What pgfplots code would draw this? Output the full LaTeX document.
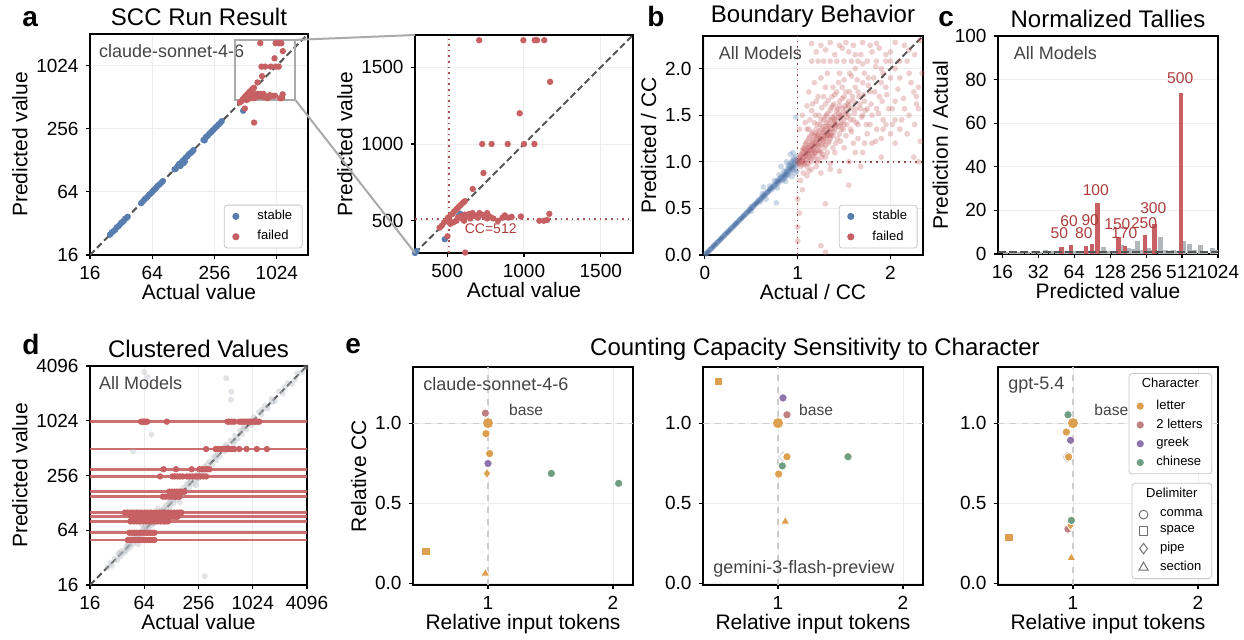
\documentclass[border=0pt]{standalone}
\usepackage{fontspec}
\setmainfont{Liberation Sans}
\usepackage{pgfplots}
\usepackage{pgfplotstable}
\pgfplotsset{compat=1.18}

\definecolor{stable}{RGB}{88,126,176}
\definecolor{failed}{RGB}{198,96,98}
\definecolor{ccred}{RGB}{172,60,60}
\definecolor{bargray}{RGB}{178,183,188}
\definecolor{ptgray}{RGB}{180,186,192}
\definecolor{diag}{RGB}{85,85,85}
\definecolor{inset}{RGB}{68,68,68}
\definecolor{zoomgray}{RGB}{170,170,170}
\definecolor{cletter}{RGB}{220,160,80}
\definecolor{ctwo}{RGB}{190,128,128}
\definecolor{cgreek}{RGB}{142,116,172}
\definecolor{cchin}{RGB}{112,158,130}
\definecolor{refgray}{RGB}{205,205,205}

\pgfplotsset{
 /pgf/number format/assume math mode=true,
 /pgf/number format/1000 sep={},
 panel/.style={
  scale only axis, anchor=south west,
  axis line style={line width=1pt},
  tick pos=left, tick align=outside,
  major tick length=2.2pt,
  tick style={black,line width=0.6pt},
  grid=major, grid style={black!7,line width=0.5pt},
  tick label style={font=\fontsize{9.5}{10}\selectfont},
  label style={font=\fontsize{10.5}{12}\selectfont},
  xlabel style={yshift=4.5pt},
  ylabel style={yshift=-2.5pt},
  title style={font=\fontsize{12}{14}\selectfont,yshift=-5.5pt},
 },
 legbox/.style={font=\fontsize{6.5}{7}\selectfont,draw=black!22,rounded corners=1.5pt,
   inner xsep=4pt,inner ysep=1.5pt,nodes={inner sep=1pt}},
 leg/.style={legend cell align=left,
  legend style={legbox,at={(0.975,0.03)},anchor=south east,row sep=2pt}},
 dots/.style={only marks,mark=*,mark size=#1,mark options={draw opacity=0}},
 cloud/.style={only marks,mark=*,mark size=1.45pt,color=#1,
  mark options={fill=#1,draw opacity=0,fill opacity=0.3}},
 diagline/.style={diag,line width=1pt,dash pattern=on 3.3pt off 1.7pt},
}
\newcommand\insetfont{\fontsize{9}{10}\selectfont}

% panel a: stable points
\pgfplotstableread{
x y
25 25
26 26.3
27 27
28 27.8
29 29.3
30 30
31 31
32 32.4
33 33
34 34
35 35.5
36 36
37 37
50 50
52 52
54 54.5
56 56
58 58
60 60.5
62 62
64 64
66 66.5
68 68
70 70
72 73
75 75
78 78
81 81
105 105
108 106
112 112
116 118
120 120
120 113
125 126
128 120
130 130
132 124
135 136
140 140
145 147
150 150
155 154
160 160
200 200
205 198
210 212
216 216
222 222
230 232
238 238
245 246
252 252
260 262
270 270
280 281
290 290
300 302
484 380
585 545
575 530
}\aBlue
% panel a: failed points
\pgfplotstableread{
x y
708 1676
996 1676
1070 1676
1085 1676
1132 1676
1170 1405
972 1200
728 1000
789 1000
894 1000
1000 1000
1068 1000
736 811
666 707
617 293
502 399
450 455
465 468
480 490
495 500
505 520
515 505
525 540
535 545
545 560
555 570
565 580
575 590
585 600
595 610
605 620
615 628
560 500
570 520
590 530
600 512
615 540
630 530
645 545
655 540
665 550
680 530
695 535
710 550
725 540
745 528
760 550
780 525
800 515
830 500
860 520
875 535
900 520
920 525
980 528
1100 500
1130 500
1150 505
1165 545
520 480
540 490
610 500
650 515
700 520
760 515
}\aRed

\begin{document}
\begin{tikzpicture}
\useasboundingbox (0,0) rectangle (622pt,319.5pt);

% ---------- a ----------
\begin{axis}[panel,name=pa,at={(45pt,192pt)},width=109pt,height=110.5pt,
 xmode=log,ymode=log,log basis x=2,log basis y=2,
 xmin=16,xmax=2048,ymin=16,ymax=2048,
 xtick={16,64,256,1024},xticklabels={16,64,256,1024},
 ytick={16,64,256,1024},yticklabels={16,64,256,1024},
 xlabel={Actual value},ylabel={Predicted value},title={SCC Run Result},leg]
\addlegendimage{dots=1.8pt,stable}\addlegendentry{\hspace{8pt}stable}
\addlegendimage{dots=1.8pt,failed}\addlegendentry{\hspace{8pt}failed}
\addplot[dots=1.6pt,stable,forget plot] table {\aBlue};
\addplot[dots=1.6pt,failed,forget plot] table {\aRed};
\addplot[diagline,forget plot] coordinates {(16,16) (2048,2048)};
\node[anchor=north west,inner sep=0pt,text=inset,font=\insetfont] at (rel axis cs:0.04,0.955) {claude-sonnet-4-6};
\draw[zoomgray,line width=1pt] (axis cs:400,480) rectangle (axis cs:1550,1800);
\coordinate (rtr) at (axis cs:1550,1800);
\coordinate (rbr) at (axis cs:1550,480);
\end{axis}

% ---------- a zoom ----------
\begin{axis}[panel,name=az,at={(207.5pt,193pt)},width=109pt,height=109pt,
 xmin=290,xmax=1710,ymin=290,ymax=1710,
 xtick={500,1000,1500},ytick={500,1000,1500},
 xlabel={Actual value},ylabel={Predicted value}]
\addplot[failed!85!black,dotted,line width=0.8pt] coordinates {(512,290) (512,1710)};
\addplot[failed!85!black,dotted,line width=0.8pt] coordinates {(290,512) (1710,512)};
\addplot[dots=1.6pt,stable] table {\aBlue};
\addplot[dots=1.6pt,failed] table {\aRed};
\addplot[diagline] coordinates {(290,290) (1710,1710)};
\node[anchor=west,inner sep=0pt,text=ccred,font=\fontsize{7}{8}\selectfont] at (axis cs:612,447) {CC=512};
\end{axis}
\draw[zoomgray,line width=1pt] (rtr) -- (az.north west);
\draw[zoomgray,line width=1pt] (rbr) -- (az.south west);

% ---------- b ----------
\begin{axis}[panel,at={(351.5pt,192pt)},width=110pt,height=109.5pt,
 xmin=-0.02,xmax=2.35,ymin=0,ymax=2.35,
 xtick={0,1,2},ytick={0,0.5,1,1.5,2},yticklabels={0.0,0.5,1.0,1.5,2.0},
 xlabel={Actual / CC},ylabel={Predicted / CC},title={Boundary Behavior},leg]
\addlegendimage{dots=1.8pt,stable}\addlegendentry{\hspace{8pt}stable}
\addlegendimage{dots=1.8pt,failed}\addlegendentry{\hspace{8pt}failed}
\addplot[cloud=stable,forget plot] coordinates {
(0.01,0.01)(0.02,0.021)(0.03,0.03)(0.04,0.04)(0.05,0.052)(0.06,0.06)(0.07,0.07)(0.08,0.081)(0.09,0.09)(0.1,0.1)
(0.11,0.112)(0.12,0.12)(0.13,0.13)(0.14,0.142)(0.15,0.15)(0.16,0.16)(0.17,0.172)(0.18,0.18)(0.19,0.19)(0.2,0.2)
(0.21,0.21)(0.22,0.225)(0.23,0.23)(0.24,0.24)(0.25,0.252)(0.26,0.26)(0.27,0.27)(0.28,0.283)(0.29,0.29)(0.3,0.3)
(0.31,0.31)(0.32,0.32)(0.33,0.335)(0.34,0.34)(0.35,0.35)(0.36,0.36)(0.37,0.375)(0.38,0.38)(0.39,0.39)(0.4,0.4)
(0.41,0.415)(0.42,0.42)(0.43,0.43)(0.44,0.445)(0.45,0.45)(0.46,0.46)(0.47,0.47)(0.48,0.49)(0.49,0.49)(0.5,0.5)
(0.5,0.52)(0.51,0.51)(0.52,0.52)(0.53,0.54)(0.54,0.54)(0.55,0.55)(0.56,0.56)(0.57,0.58)(0.58,0.58)(0.59,0.59)
(0.6,0.6)(0.61,0.62)(0.62,0.61)(0.63,0.63)(0.64,0.65)(0.65,0.64)(0.66,0.66)(0.67,0.68)(0.68,0.67)(0.69,0.69)
(0.7,0.7)(0.71,0.72)(0.72,0.7)(0.73,0.73)(0.74,0.75)(0.75,0.73)(0.76,0.76)(0.77,0.79)(0.78,0.76)(0.79,0.8)
(0.8,0.78)(0.8,0.82)(0.81,0.8)(0.82,0.84)(0.83,0.81)(0.84,0.85)(0.85,0.82)(0.86,0.88)(0.87,0.85)(0.88,0.9)
(0.88,0.86)(0.89,0.92)(0.9,0.87)(0.9,0.93)(0.91,0.9)(0.92,0.95)(0.92,0.89)(0.93,0.97)(0.94,0.92)(0.94,1.0)
(0.95,0.94)(0.96,0.98)(0.96,1.04)(0.97,0.95)(0.98,1.0)(0.98,1.06)(0.99,0.97)(0.99,1.02)(1.0,1.0)(0.85,0.9)
(0.8,0.86)(0.9,0.97)(0.75,0.8)(0.7,0.74)(0.78,0.72)(0.62,0.66)(0.92,1.08)(0.63,0.73)(0.88,1.0)(0.66,0.6)
(0.82,0.95)(0.95,1.1)(0.5,0.47)(0.6,0.57)(0.99,0.9)(0.97,0.88)(0.94,0.84)(0.87,0.79)(0.77,0.56)(0.98,1.48)
(0.93,0.99)(0.96,0.92)(0.91,0.96)(0.86,0.83)(0.97,1.01)(0.89,0.85)(0.84,0.8)(0.95,1.02)
(0.015,0.016)(0.035,0.034)(0.055,0.056)(0.075,0.074)(0.095,0.096)(0.115,0.114)(0.135,0.136)(0.155,0.154)
(0.175,0.176)(0.195,0.194)(0.215,0.216)(0.235,0.234)(0.255,0.256)(0.275,0.274)(0.295,0.296)(0.315,0.314)
(0.335,0.336)(0.355,0.354)(0.375,0.376)(0.395,0.394)(0.415,0.416)(0.435,0.434)(0.455,0.456)(0.475,0.474)
(0.495,0.496)(0.515,0.514)(0.535,0.536)(0.555,0.554)(0.575,0.576)(0.595,0.594)(0.615,0.616)(0.635,0.634)
(0.655,0.656)(0.675,0.674)(0.695,0.696)(0.715,0.714)(0.735,0.736)(0.755,0.754)(0.775,0.776)(0.795,0.794)
(0.815,0.816)(0.835,0.834)(0.855,0.856)(0.875,0.874)(0.895,0.896)(0.915,0.916)(0.935,0.934)(0.955,0.956)};
\addplot[cloud=failed,forget plot] coordinates {
(1.00,1.00)(1.01,0.98)(1.02,1.05)(1.03,1.02)(1.03,0.95)(1.04,1.08)(1.05,1.00)(1.05,1.12)(1.06,1.04)(1.07,0.97)
(1.07,1.15)(1.08,1.07)(1.09,1.02)(1.09,1.20)(1.10,1.10)(1.10,0.95)(1.11,1.15)(1.12,1.05)(1.12,1.25)(1.13,1.12)
(1.14,1.00)(1.14,1.18)(1.15,1.10)(1.15,1.30)(1.16,1.22)(1.17,1.05)(1.17,1.15)(1.18,1.28)(1.19,1.20)(1.19,1.10)
(1.20,1.25)(1.20,1.35)(1.21,1.00)(1.22,1.18)(1.22,1.30)(1.23,1.22)(1.24,1.40)(1.24,1.12)(1.25,1.25)(1.26,1.35)
(1.26,1.05)(1.27,1.20)(1.28,1.30)(1.28,1.45)(1.29,1.15)(1.30,1.25)(1.30,1.38)(1.31,1.50)(1.32,1.28)(1.33,1.20)
(1.33,1.40)(1.34,1.33)(1.35,1.55)(1.35,1.25)(1.36,1.45)(1.37,1.35)(1.38,1.28)(1.38,1.60)(1.39,1.42)(1.40,1.35)
(1.40,1.50)(1.41,1.20)(1.42,1.45)(1.43,1.57)(1.44,1.38)(1.45,1.30)(1.45,1.65)(1.46,1.50)(1.47,1.42)(1.48,1.57)
(1.49,1.35)(1.50,1.70)(1.50,1.45)(1.52,1.57)(1.53,1.40)(1.54,1.62)(1.55,1.50)(1.56,1.75)(1.57,1.35)(1.58,1.57)
(1.60,1.65)(1.60,1.45)(1.62,1.80)(1.63,1.57)(1.65,1.40)(1.66,1.70)(1.68,1.57)(1.70,1.85)(1.70,1.50)(1.72,1.65)
(1.74,1.40)(1.75,1.57)(1.78,1.75)(1.80,1.50)(1.82,1.90)(1.85,1.57)(1.88,1.70)(1.90,2.00)(1.92,1.45)(1.95,1.80)
(1.98,1.57)(2.00,2.08)(2.05,1.65)(2.10,1.90)(2.15,1.57)(2.20,2.20)(2.25,1.75)(2.30,1.57)(2.32,2.30)
(1.15,2.08)(1.22,2.08)(1.28,2.08)(1.35,2.08)(1.42,2.08)(1.50,2.08)(1.58,2.08)(1.65,2.08)(1.75,2.08)(1.85,2.08)
(1.95,2.08)(2.10,2.08)(1.15,2.27)(1.25,2.25)(1.35,2.28)(1.45,2.25)(1.52,2.28)(1.60,2.25)(1.70,2.28)(1.78,2.25)
(1.85,2.27)(2.05,2.28)(1.20,2.18)(1.40,2.15)(1.55,2.18)(1.68,2.15)(1.80,2.18)(1.95,2.15)(2.15,2.25)
(1.02,1.35)(1.05,1.50)(1.08,1.42)(1.10,1.60)(1.12,1.75)(1.15,1.55)(1.18,1.85)(1.20,1.65)(1.25,1.90)(1.28,1.70)
(1.32,1.95)(1.38,1.80)(1.45,1.95)(1.50,1.88)(1.58,1.92)(1.62,2.00)(1.72,1.95)(1.90,1.85)(2.00,1.90)(2.20,1.95)
(2.28,1.70)(2.30,1.80)(1.20,0.95)(1.30,1.05)(1.35,0.98)(1.40,1.10)(1.50,1.15)(1.55,1.00)(1.60,1.20)(1.65,1.25)
(1.70,1.10)(1.75,1.30)(1.80,1.20)(1.85,1.35)(1.90,1.25)(1.95,1.40)(2.00,1.30)(2.05,1.45)(2.10,1.35)(2.20,1.50)
(2.25,1.05)(2.30,1.00)(1.45,0.90)(1.25,0.88)(1.10,0.85)(1.03,0.80)(1.05,0.70)(1.00,0.60)(1.02,0.45)(1.00,0.30)
(1.25,0.10)(1.30,0.03)(1.55,0.75)(1.68,0.95)(1.00,0.15)(1.30,0.55)(2.05,1.20)(1.90,1.05)
(1.06,1.10)(1.08,1.13)(1.11,1.08)(1.13,1.17)(1.16,1.13)(1.18,1.19)(1.21,1.23)(1.23,1.27)(1.25,1.18)(1.27,1.32)
(1.29,1.27)(1.31,1.35)(1.34,1.38)(1.36,1.30)(1.39,1.47)(1.41,1.40)(1.44,1.52)(1.47,1.48)(1.52,1.52)(1.55,1.60)
(1.12,1.35)(1.18,1.42)(1.23,1.50)(1.30,1.62)(1.37,1.70)(1.42,1.75)(1.48,1.80)(1.20,1.12)(1.28,1.22)(1.34,1.28)
(1.01,1.03)(1.02,0.99)(1.03,1.07)(1.04,1.01)(1.04,0.97)(1.05,1.06)(1.06,1.00)(1.06,1.14)(1.07,1.05)(1.08,0.99)
(1.08,1.18)(1.09,1.09)(1.10,1.03)(1.10,1.22)(1.11,1.12)(1.11,0.98)(1.12,1.15)(1.13,1.06)(1.13,1.27)(1.14,1.13)
(1.15,1.03)(1.15,1.20)(1.16,1.08)(1.16,1.32)(1.17,1.24)(1.18,1.10)(1.18,1.16)(1.19,1.30)(1.20,1.18)(1.20,1.06)
(1.21,1.28)(1.21,1.40)(1.22,1.12)(1.23,1.17)(1.23,1.33)(1.24,1.25)(1.25,1.45)(1.25,1.10)(1.26,1.28)(1.27,1.38)
(1.27,1.08)(1.28,1.24)(1.29,1.34)(1.29,1.48)(1.30,1.18)(1.31,1.28)(1.31,1.42)(1.32,1.52)(1.33,1.30)(1.34,1.22)
(1.34,1.45)(1.35,1.36)(1.36,1.58)(1.36,1.28)(1.37,1.48)(1.38,1.40)(1.39,1.32)(1.39,1.62)(1.40,1.44)(1.41,1.38)
(1.42,1.55)(1.43,1.25)(1.44,1.48)(1.45,1.60)(1.46,1.40)(1.47,1.35)(1.48,1.68)(1.49,1.52)(1.50,1.40)(1.51,1.60)
(1.53,1.48)(1.55,1.65)(1.57,1.45)(1.59,1.70)(1.61,1.52)(1.63,1.42)(1.65,1.75)(1.67,1.62)(1.69,1.48)(1.71,1.72)
(1.73,1.55)(1.76,1.82)(1.79,1.62)(1.83,1.75)(1.87,1.52)(1.91,1.65)(1.96,1.72)(2.02,1.57)(2.08,1.78)(2.14,1.68)
(2.22,1.85)(2.28,1.62)(2.34,1.95)
(1.10,1.35)(1.13,1.45)(1.16,1.62)(1.19,1.50)(1.22,1.70)(1.26,1.58)(1.30,1.80)(1.33,1.66)(1.40,1.72)(1.44,1.85)
(1.52,1.75)(1.56,1.95)(1.64,1.88)(1.70,2.05)(1.76,1.90)(1.84,2.02)(1.92,1.95)(2.05,2.00)(2.18,2.08)(2.26,2.15)
(1.30,2.20)(1.48,2.22)(1.62,2.15)(1.88,2.22)(2.00,2.18)
(1.15,0.92)(1.22,1.02)(1.32,1.10)(1.38,1.15)(1.46,1.22)(1.52,1.28)(1.58,1.32)(1.62,1.10)(1.72,1.20)(1.78,1.40)
(1.84,1.22)(1.92,1.35)(2.02,1.40)(2.12,1.45)(2.18,1.30)(2.26,1.40)(2.32,1.22)(1.12,0.90)(1.06,0.88)(1.35,0.92)};
\addplot[failed!75!black,dotted,line width=0.8pt,forget plot] coordinates {(1,0) (1,2.35)};
\addplot[failed!75!black,dotted,line width=0.8pt,forget plot] coordinates {(1,1) (2.35,1)};
\addplot[diagline,forget plot] coordinates {(0,0) (2.35,2.35)};
\node[anchor=north west,inner sep=0pt,text=inset,font=\insetfont] at (rel axis cs:0.07,0.955) {All Models};
\end{axis}

% ---------- c ----------
\begin{axis}[panel,at={(499pt,192.5pt)},width=110pt,height=109pt,
 xmode=log,log basis x=2,xmin=14.7,xmax=1024,ymin=0,ymax=100,
 xtick={16,32,64,128,256,512,1024},xticklabels={16,32,64,128,256,512,1024},
 ytick={0,20,40,60,80,100},xmajorgrids=false,ymajorgrids=true,
 ylabel style={yshift=-1pt},
 xlabel={Predicted value},ylabel={Prediction / Actual},title={Normalized Tallies}]
\addplot[ycomb,no markers,bargray,line width=2.5pt] coordinates {
(17,1.0)(19,1.0)(21,1.1)(23,1.0)(26,1.0)(29,1.2)(33,1.0)(37,1.8)(41,1.2)(46,1.0)(52,1.3)(57,1.0)
(64,1.2)(71,1.0)(78,1.5)(86,1.2)(96,1.0)(106,1.5)(113,3.1)(125,1.2)(138,1.5)(158,4.1)(182,2.6)
(200,2.2)(217,6.1)(240,2.0)(268,2.6)(285,2.0)(335,7.6)(372,1.8)(410,1.5)(436,1.8)(470,1.5)(525,6.0)
(588,4.6)(650,1.8)(724,4.1)(800,1.5)(917,2.6)(1000,2.0)};
\addplot[ycomb,no markers,failed,line width=2.2pt] coordinates {
(50,3.2)(60,4.1)(80,3.7)(90,4.6)(100,23.5)(150,7.8)(170,3.8)(250,8.7)(300,13.7)(500,73.7)};
\addplot[diag,line width=1.1pt,dash pattern=on 4pt off 1.6pt] coordinates {(14.7,1) (1024,1)};
\node[anchor=north west,inner sep=0pt,text=inset,font=\insetfont] at (rel axis cs:0.07,0.955) {All Models};
\begin{scope}[font=\fontsize{7.8}{8}\selectfont,text=ccred]
\node at (axis cs:48,9.6) {50};
\node at (axis cs:58,15) {60};
\node at (axis cs:77,9.6) {80};
\node at (axis cs:87,15.6) {90};
\node at (axis cs:97,29.4) {100};
\node at (axis cs:147,13.8) {150};
\node at (axis cs:168,9.6) {170};
\node at (axis cs:246,14.2) {250};
\node at (axis cs:294,21) {300};
\node at (axis cs:494,80.8) {500};
\end{scope}
\end{axis}

% ---------- d ----------
\begin{axis}[panel,at={(45pt,27pt)},width=108.5pt,height=109.5pt,
 xmode=log,ymode=log,log basis x=2,log basis y=2,
 xmin=16,xmax=4096,ymin=16,ymax=4096,
 xtick={16,64,256,1024,4096},xticklabels={16,64,256,1024,4096},
 ytick={16,64,256,1024,4096},yticklabels={16,64,256,1024,4096},
 xlabel={Actual value},ylabel={Predicted value},title={Clustered Values}]
\addplot[only marks,mark=*,mark size=1.5pt,color=ptgray,
 mark options={fill=ptgray,draw opacity=0,fill opacity=0.4}] coordinates {
(25,25)(27,28)(28,26)(30,31)(32,30)(33,35)(35,33)(36,38)(38,36)(40,42)(40,38)(42,40)(44,46)(45,42)
(47,50)(48,45)(50,52)(52,49)(55,57)(56,53)(58,61)(60,56)(62,66)(64,60)(66,70)(68,64)(70,74)(72,68)
(75,79)(78,73)(80,85)(82,77)(85,90)(88,83)(90,96)(95,90)(98,104)(100,95)(105,112)(108,102)(112,120)
(115,108)(120,128)(125,118)(130,140)(135,127)(140,150)(145,137)(150,160)(155,146)(160,172)(168,158)
(175,188)(180,170)(190,205)(200,188)(210,225)(220,205)(230,245)(240,225)(250,270)(260,245)(275,295)
(290,270)(300,320)(320,300)(340,365)(360,335)(380,410)(400,375)(420,450)(440,415)(470,500)(500,470)
(520,560)(550,520)(580,620)(620,580)(650,700)(700,650)(740,800)(780,730)(820,880)(870,820)(920,990)
(980,920)(1050,1120)(1100,1040)(1200,1280)(1280,1200)(1400,1500)(1500,1400)(1650,1780)(1800,1680)
(2000,2150)(2200,2050)(2500,2650)(2800,2600)(3200,3400)(3600,3500)(4000,4000)
(64,3500)(520,3000)(300,20)(77,720)(586,1740)(593,2130)(48,470)(70,3100)
(90,110)(110,90)(130,160)(160,130)(200,240)(240,200)(60,75)(75,60)(45,55)(55,45)
(34,36)(42,45)(52,55)(64,68)(80,76)(100,106)(125,132)(160,152)(200,212)(250,238)(320,338)(400,420)
(500,530)(640,610)(800,840)(1000,960)(1300,1350)(1700,1650)(2300,2400)(3000,2900)};
\foreach \v in {50,60,80,90,100,150,170,250,300,500,1000}{
 \edef\tmp{\noexpand\addplot[failed,line width=1.3pt,opacity=0.9] coordinates {(16,\v) (4096,\v)};}\tmp}
\addplot[dots=1.6pt,failed] coordinates {
(59,1000)(62,1000)(64,1000)(66,1000)(69,1000)(114,1000)(538,1000)(560,1000)(600,1000)(639,1000)
(724,1000)(760,1000)(800,1000)(840,1000)(880,1000)(920,1000)(960,1000)(1000,1000)(1050,1000)(1100,1000)
(1150,1000)(1210,1000)
(311,500)(396,500)(420,500)(445,500)(470,500)(500,500)(530,500)(560,500)(600,500)(639,500)(725,500)
(873,500)(1137,500)(1470,500)
(105,300)(144,300)(215,300)(262,300)(280,300)(300,300)(320,300)(338,300)
(96,250)(132,250)(140,250)(150,250)(160,250)(171,250)(191,250)(205,250)(220,250)(235,250)(250,250)
(270,250)(290,250)(311,250)
(122,170)(130,170)(138,170)(146,170)(155,170)(164,170)(172,170)(179,170)
(103,150)(110,150)(118,150)(126,150)(134,150)(142,150)(150,150)(158,150)
(39,100)(42,100)(45,100)(48,100)(52,100)(56,100)(60,100)(65,100)(70,100)(76,100)(82,100)(88,100)
(95,100)(102,100)(110,100)(118,100)(127,100)(137,100)(148,100)(158,100)(165,100)
(46,90)(50,90)(54,90)(58,90)(63,90)(68,90)(74,90)(80,90)(86,90)(93,90)(100,90)(108,90)(116,90)
(125,90)(134,90)(143,90)(150,90)
(45,80)(49,80)(53,80)(57,80)(62,80)(67,80)(72,80)(78,80)(84,80)(90,80)(97,80)(104,80)(110,80)(117,80)
(44,60)(47,60)(50,60)(53,60)(57,60)(61,60)(65,60)(69,60)(74,60)(78,60)(83,60)
(42,50)(45,50)(48,50)(51,50)(55,50)(59,50)(63,50)(67,50)(71,50)(75,50)(79,50)(83,50)};
\addplot[diagline] coordinates {(16,16) (4096,4096)};
\node[anchor=north west,inner sep=0pt,text=inset,font=\insetfont] at (rel axis cs:0.04,0.955) {All Models};
\end{axis}

% ---------- e ----------
\pgfplotsset{epanel/.style={panel,width=110pt,height=109pt,
 xmin=0.4,xmax=2.16,ymin=-0.01,ymax=1.35,
 xtick={1,2},ytick={0,0.5,1},yticklabels={0.0,0.5,1.0},
 xlabel={Relative input tokens}},
 small/.style={only marks,mark=*,mark size=2.1pt,mark options={draw=white,line width=0.4pt,fill=#1}},
 big/.style={only marks,mark=*,mark size=2.8pt,mark options={draw=white,line width=0.4pt,fill=#1}},
 sq/.style={only marks,mark=square*,mark size=2.1pt,mark options={draw=white,line width=0.4pt,fill=#1}},
 dia/.style={only marks,mark=diamond*,mark size=2.5pt,mark options={draw=white,line width=0.4pt,fill=#1}},
 tri/.style={only marks,mark=triangle*,mark size=2.6pt,mark options={draw=white,line width=0.4pt,fill=#1}},
 ghost/.style={only marks,mark=diamond*,mark size=2.5pt,mark options={draw=black!18,fill=white,line width=0.4pt}},
 refl/.style={refgray,dashed,line width=0.6pt},
 eleg/.style={legend cell align=left,
  legend image code/.code={\draw[##1] plot coordinates {(0cm,0cm)};},
  legend style={legbox,inner xsep=3.5pt,row sep=1.2pt,
  label={[anchor=north,inner sep=0pt,yshift=-2.5pt,font=\fontsize{6.5}{7}\selectfont]north:#1}}}}

\begin{axis}[epanel,at={(206.5pt,27pt)},ylabel={Relative CC}]
\addplot[refl] coordinates {(1,-0.01) (1,1.35)};
\addplot[refl] coordinates {(0.4,1) (2.16,1)};
\addplot[small=ctwo] coordinates {(0.979,1.062)};
\addplot[big=cletter] coordinates {(1.0,1.0)};
\addplot[small=cletter] coordinates {(0.984,0.934)(1.013,0.81)};
\addplot[small=cgreek] coordinates {(1.0,0.748)};
\addplot[dia=cletter] coordinates {(0.992,0.686)};
\addplot[small=cchin] coordinates {(1.507,0.686)(2.045,0.624)};
\addplot[sq=cletter] coordinates {(0.504,0.2)};
\addplot[tri=cletter] coordinates {(0.979,0.062)};
\node[text=inset,font=\fontsize{7.8}{9}\selectfont] at (axis cs:1.305,1.085) {base};
\node[anchor=north west,inner sep=0pt,text=inset,font=\insetfont] at (rel axis cs:0.045,0.955) {claude-sonnet-4-6};
\end{axis}

\begin{axis}[epanel,at={(351.5pt,27pt)}]
\addplot[refl] coordinates {(1,-0.01) (1,1.35)};
\addplot[refl] coordinates {(0.4,1) (2.16,1)};
\addplot[sq=cletter] coordinates {(0.523,1.26)};
\addplot[small=cgreek] coordinates {(1.04,1.157)};
\addplot[small=ctwo] coordinates {(1.072,1.052)};
\addplot[big=cletter] coordinates {(1.0,1.0)};
\addplot[ghost] coordinates {(1.04,0.79)};
\addplot[small=cletter] coordinates {(1.072,0.79)(1.005,0.682)};
\addplot[small=cchin] coordinates {(1.034,0.733)(1.56,0.79)};
\addplot[tri=cletter] coordinates {(1.058,0.386)};
\node[text=inset,font=\fontsize{7.8}{9}\selectfont] at (axis cs:1.305,1.085) {base};
\node[anchor=south west,inner sep=0pt,text=inset,font=\insetfont] at (rel axis cs:0.045,0.035) {gemini-3-flash-preview};
\end{axis}

\begin{axis}[epanel,at={(499pt,27pt)},eleg=Character,
 legend style={at={(0.973,0.972)},anchor=north east}]
\addlegendimage{empty legend}\addlegendentry{\rule{0pt}{6pt}}
\addlegendimage{small=cletter}\addlegendentry{\hspace{5pt}letter}
\addlegendimage{small=ctwo}\addlegendentry{\hspace{5pt}2 letters}
\addlegendimage{small=cgreek}\addlegendentry{\hspace{5pt}greek}
\addlegendimage{small=cchin}\addlegendentry{\hspace{5pt}chinese}
\addplot[refl,forget plot] coordinates {(1,-0.01) (1,1.35)};
\addplot[refl,forget plot] coordinates {(0.4,1) (2.16,1)};
\addplot[small=cchin,forget plot] coordinates {(0.96,1.052)};
\addplot[big=cletter,forget plot] coordinates {(1.0,1.0)};
\addplot[small=cletter,forget plot] coordinates {(0.947,0.944)};
\addplot[small=cgreek,forget plot] coordinates {(0.981,0.893)};
\addplot[ghost,forget plot] coordinates {(0.95,0.789)};
\addplot[small=cletter,forget plot] coordinates {(0.965,0.789)};
\addplot[small=ctwo,forget plot] coordinates {(0.96,0.339)};
\addplot[dia=cletter,forget plot] coordinates {(0.98,0.362)};
\addplot[small=cchin,forget plot] coordinates {(0.987,0.393)};
\addplot[sq=cletter,forget plot] coordinates {(0.488,0.287)};
\addplot[tri=cletter,forget plot] coordinates {(0.987,0.159)};
\node[text=inset,font=\fontsize{7.8}{9}\selectfont] at (axis cs:1.307,1.085) {base};
\node[anchor=north west,inner sep=0pt,text=inset,font=\insetfont] at (rel axis cs:0.045,0.955) {gpt-5.4};
\end{axis}

\begin{axis}[scale only axis,anchor=south west,at={(499pt,27pt)},width=110pt,height=109pt,
 hide axis,xmin=0,xmax=1,ymin=0,ymax=1,eleg=Delimiter,
 legend style={at={(0.973,0.0275)},anchor=south east}]
\addlegendimage{empty legend}\addlegendentry{\rule{0pt}{6pt}}
\addlegendimage{only marks,mark=o,mark size=2.2pt,mark options={draw=black!55,line width=0.5pt}}\addlegendentry{\hspace{5pt}comma}
\addlegendimage{only marks,mark=square,mark size=2.1pt,mark options={draw=black!55,line width=0.5pt}}\addlegendentry{\hspace{5pt}space}
\addlegendimage{only marks,mark=diamond,mark size=2.6pt,mark options={draw=black!55,line width=0.5pt}}\addlegendentry{\hspace{5pt}pipe}
\addlegendimage{only marks,mark=triangle,mark size=2.6pt,mark options={draw=black!55,line width=0.5pt}}\addlegendentry{\hspace{5pt}section}
\end{axis}

% panel letters and shared title
\begin{scope}[font=\bfseries\fontsize{14}{14}\selectfont]
\node[anchor=base west,inner sep=0pt] at (11pt,306pt) {a};
\node[anchor=base west,inner sep=0pt] at (323.5pt,306pt) {b};
\node[anchor=base west,inner sep=0pt] at (469pt,306pt) {c};
\node[anchor=base west,inner sep=0pt] at (11pt,142.5pt) {d};
\node[anchor=base west,inner sep=0pt] at (172.5pt,143pt) {e};
\end{scope}
\node[anchor=base,inner sep=0pt,font=\fontsize{12}{14}\selectfont] at (407.5pt,142pt) {Counting Capacity Sensitivity to Character};
\end{tikzpicture}
\end{document}
